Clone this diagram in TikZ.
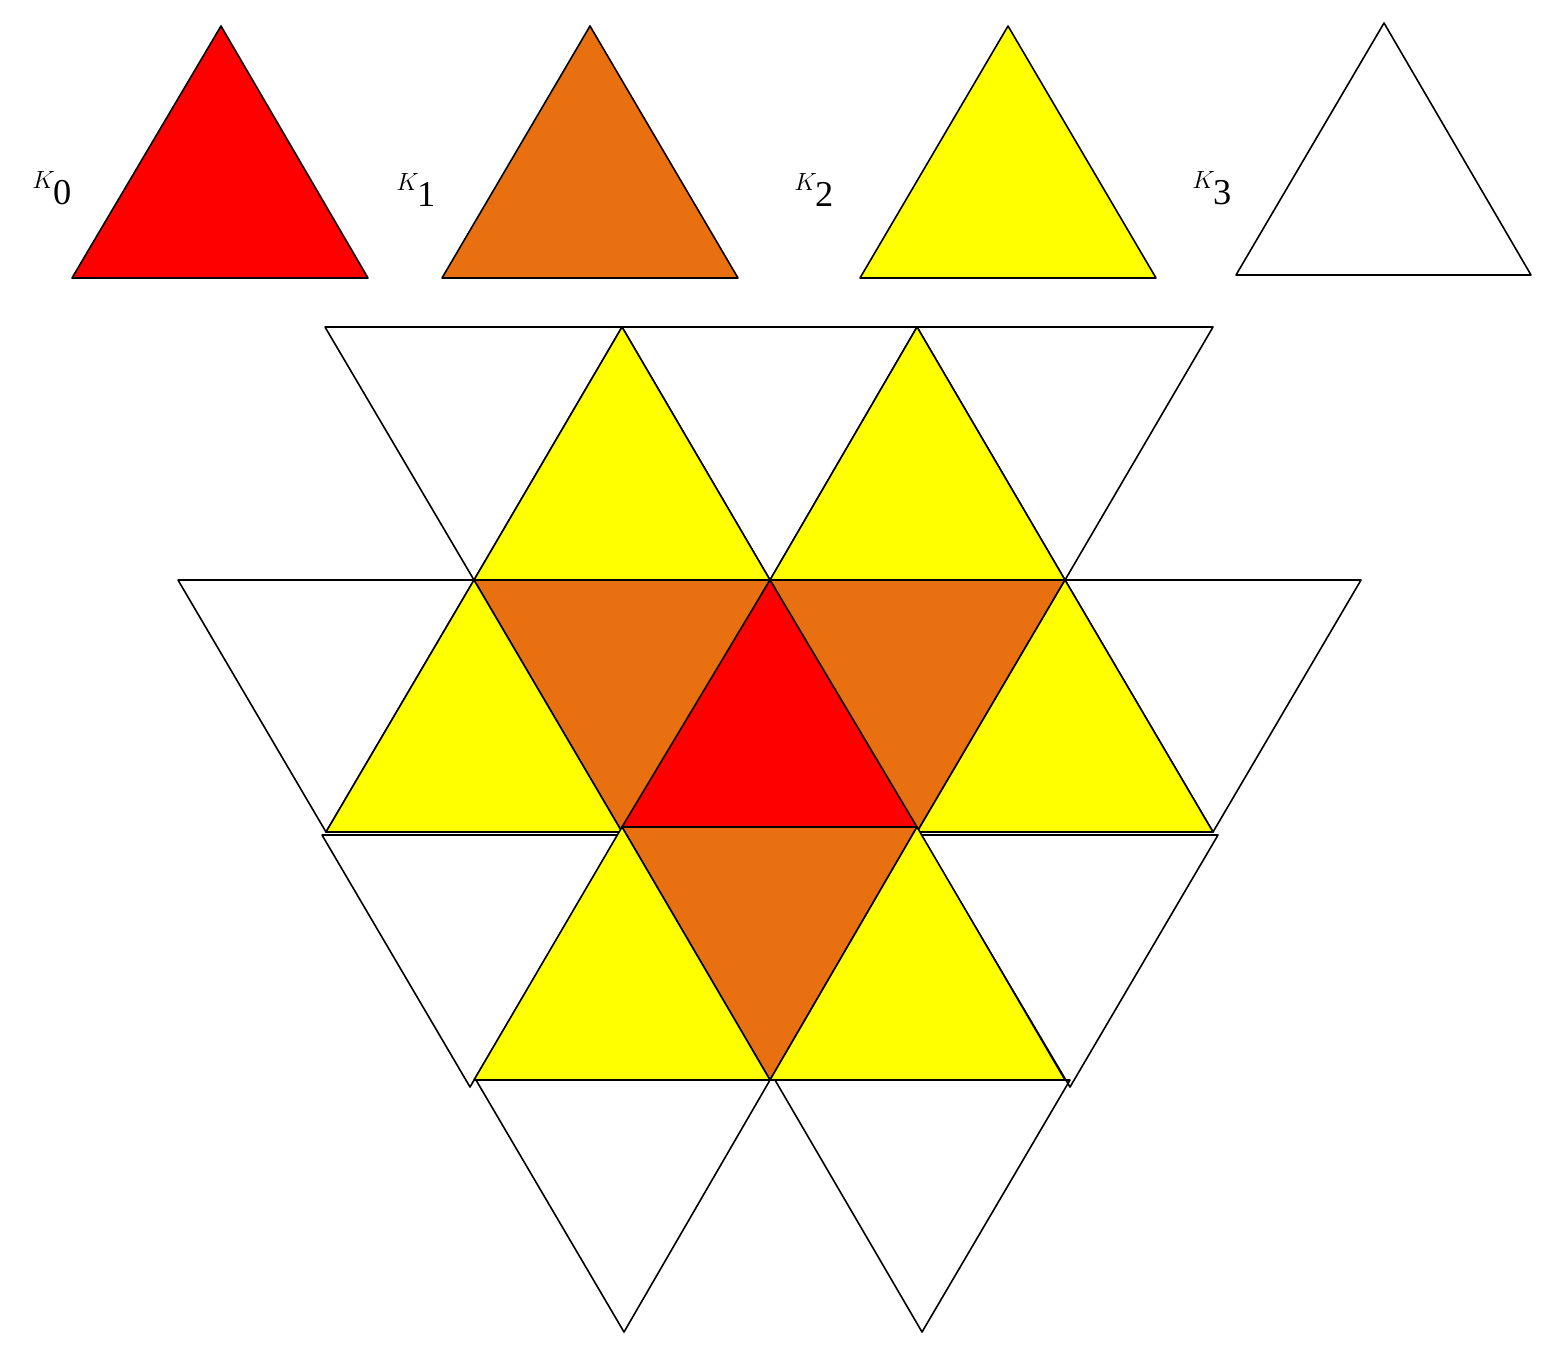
\documentclass[tikz,border=0pt]{standalone}
\usepackage{fontspec}
\setmainfont{Liberation Serif}
\begin{document}
\begin{tikzpicture}[x=1pt,y=-1pt,line join=round,
  tri/.style={draw=black,line width=1.6pt},
  lbl/.style={font=\fontsize{52}{56}\selectfont\itshape}]
\definecolor{kred}{HTML}{FF0000}
\definecolor{korange}{HTML}{E87010}
\definecolor{kyellow}{HTML}{FFFF00}
\useasboundingbox (0,0) rectangle (1554,1353);
% legend
\filldraw[tri,fill=kred] (221,26) -- (368,278) -- (72,278) -- cycle;
\filldraw[tri,fill=korange] (590,26) -- (738,278) -- (442,278) -- cycle;
\filldraw[tri,fill=kyellow] (1008,26) -- (1156,278) -- (860,278) -- cycle;
\draw[tri] (1384,23) -- (1531,275) -- (1236,275) -- cycle;
\node[lbl] (k0) at (52,188) {$K_{\mathrm{0}}$};
\node[lbl] (k1) at (416,190) {$K_{\mathrm{1}}$};
\node[lbl] (k2) at (814,190) {$K_{\mathrm{2}}$};
\node[lbl] (k3) at (1212,188) {$K_{\mathrm{3}}$};
% row 1
\draw[tri] (325,327) -- (622,327) -- (474,580) -- cycle;
\draw[tri] (622,327) -- (917,327) -- (770,580) -- cycle;
\draw[tri] (917,327) -- (1213,327) -- (1065,580) -- cycle;
\filldraw[tri,fill=kyellow] (622,327) -- (770,580) -- (474,580) -- cycle;
\filldraw[tri,fill=kyellow] (917,327) -- (1065,580) -- (770,580) -- cycle;
% row 2
\draw[tri] (178,580) -- (474,580) -- (326,832) -- cycle;
\draw[tri] (1065,580) -- (1361,580) -- (1213,832) -- cycle;
\filldraw[tri,fill=korange] (474,580) -- (770,580) -- (622,832) -- cycle;
\filldraw[tri,fill=korange] (770,580) -- (1065,580) -- (917,832) -- cycle;
\filldraw[tri,fill=kyellow] (474,580) -- (622,832) -- (326,832) -- cycle;
\filldraw[tri,fill=kyellow] (1065,580) -- (1213,832) -- (917,832) -- cycle;
\filldraw[tri,fill=kred] (770,580) -- (917,827) -- (622,827) -- cycle;
% row 3
\draw[tri] (322,835) -- (618,835) -- (470,1087) -- cycle;
\draw[tri] (921,835) -- (1218,835) -- (1070,1087) -- cycle;
\filldraw[tri,fill=korange] (622,827) -- (917,827) -- (770,1080) -- cycle;
\filldraw[tri,fill=kyellow] (622,827) -- (770,1080) -- (474,1080) -- cycle;
\filldraw[tri,fill=kyellow] (917,827) -- (1065,1080) -- (770,1080) -- cycle;
% row 4
\draw[tri] (476,1080) -- (770,1080) -- (624,1332) -- cycle;
\draw[tri] (775,1080) -- (1070,1080) -- (922,1332) -- cycle;
\end{tikzpicture}
\end{document}
